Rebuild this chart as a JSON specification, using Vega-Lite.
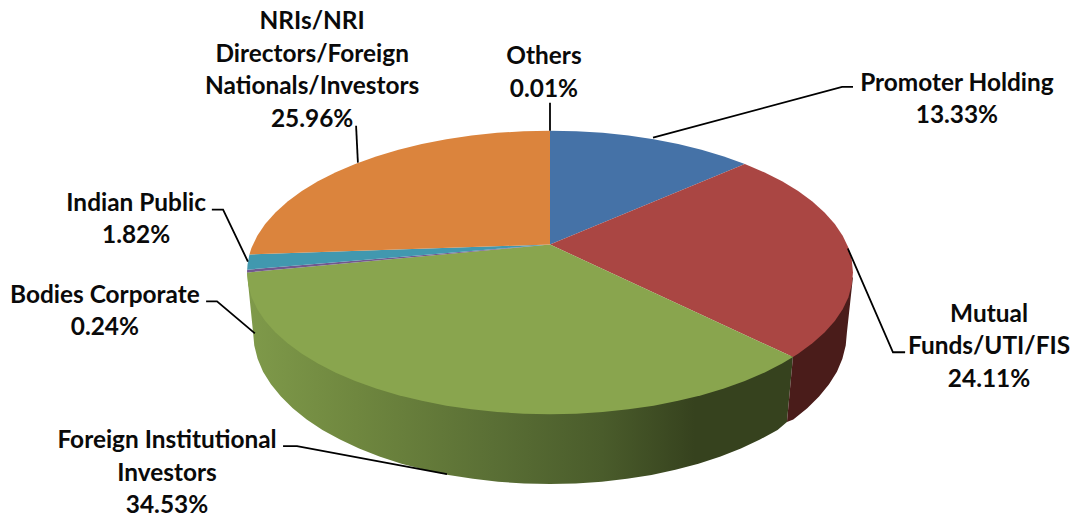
{"$schema":"https://vega.github.io/schema/vega-lite/v6.json","width":1073,"height":518,"padding":0,"autosize":{"type":"fit","contains":"padding"},"background":"white","config":{"view":{"stroke":null}},
"datasets":{
"sideGreen":[{"i":0,"x":-1,"y":0},{"i":1,"x":-0.98,"y":-0.4225},{"i":2,"x":-0.976,"y":-0.516},{"i":3,"x":-0.965,"y":-0.609},{"i":4,"x":-0.947,"y":-0.7},{"i":5,"x":-0.921,"y":-0.789},{"i":6,"x":-0.888,"y":-0.875},{"i":7,"x":-0.849,"y":-0.958},{"i":8,"x":-0.803,"y":-1.037},{"i":9,"x":-0.751,"y":-1.111},{"i":10,"x":-0.693,"y":-1.179},{"i":11,"x":-0.63,"y":-1.242},{"i":12,"x":-0.563,"y":-1.299},{"i":13,"x":-0.49,"y":-1.349},{"i":14,"x":-0.414,"y":-1.392},{"i":15,"x":-0.335,"y":-1.429},{"i":16,"x":-0.254,"y":-1.456},{"i":17,"x":-0.171,"y":-1.477},{"i":18,"x":-0.085,"y":-1.489},{"i":19,"x":0,"y":-1.493},{"i":20,"x":0.085,"y":-1.489},{"i":21,"x":0.171,"y":-1.477},{"i":22,"x":0.254,"y":-1.456},{"i":23,"x":0.335,"y":-1.429},{"i":24,"x":0.414,"y":-1.392},{"i":25,"x":0.49,"y":-1.349},{"i":26,"x":0.563,"y":-1.299},{"i":27,"x":0.63,"y":-1.242},{"i":28,"x":0.693,"y":-1.179},{"i":29,"x":0.751,"y":-1.111},{"i":30,"x":0.782,"y":-1.055},{"i":31,"x":0.802,"y":-0.592}],
"sideRed":[{"i":0,"x":0.802,"y":-0.592},{"i":1,"x":0.782,"y":-1.055},{"i":2,"x":0.803,"y":-1.037},{"i":3,"x":0.849,"y":-0.958},{"i":4,"x":0.888,"y":-0.875},{"i":5,"x":0.921,"y":-0.789},{"i":6,"x":0.947,"y":-0.7},{"i":7,"x":0.965,"y":-0.609},{"i":8,"x":0.976,"y":-0.516},{"i":9,"x":0.98,"y":-0.4225},{"i":10,"x":1,"y":-0.03}],
"top":[
{"s":"Promoter Holding","i":0,"x":0,"y":0.197},{"s":"Promoter Holding","i":1,"x":0,"y":1},{"s":"Promoter Holding","i":2,"x":0.087,"y":0.996},{"s":"Promoter Holding","i":3,"x":0.174,"y":0.985},{"s":"Promoter Holding","i":4,"x":0.259,"y":0.966},{"s":"Promoter Holding","i":5,"x":0.342,"y":0.94},{"s":"Promoter Holding","i":6,"x":0.423,"y":0.906},{"s":"Promoter Holding","i":7,"x":0.5,"y":0.866},{"s":"Promoter Holding","i":8,"x":0.574,"y":0.819},{"s":"Promoter Holding","i":9,"x":0.643,"y":0.766},
{"s":"Mutual Funds/UTI/FIS","i":0,"x":0,"y":0.197},{"s":"Mutual Funds/UTI/FIS","i":1,"x":0.643,"y":0.766},{"s":"Mutual Funds/UTI/FIS","i":2,"x":0.707,"y":0.707},{"s":"Mutual Funds/UTI/FIS","i":3,"x":0.766,"y":0.643},{"s":"Mutual Funds/UTI/FIS","i":4,"x":0.819,"y":0.574},{"s":"Mutual Funds/UTI/FIS","i":5,"x":0.866,"y":0.5},{"s":"Mutual Funds/UTI/FIS","i":6,"x":0.906,"y":0.423},{"s":"Mutual Funds/UTI/FIS","i":7,"x":0.94,"y":0.342},{"s":"Mutual Funds/UTI/FIS","i":8,"x":0.966,"y":0.259},{"s":"Mutual Funds/UTI/FIS","i":9,"x":0.985,"y":0.174},{"s":"Mutual Funds/UTI/FIS","i":10,"x":0.996,"y":0.087},{"s":"Mutual Funds/UTI/FIS","i":11,"x":1,"y":0},{"s":"Mutual Funds/UTI/FIS","i":12,"x":0.996,"y":-0.087},{"s":"Mutual Funds/UTI/FIS","i":13,"x":0.985,"y":-0.174},{"s":"Mutual Funds/UTI/FIS","i":14,"x":0.966,"y":-0.259},{"s":"Mutual Funds/UTI/FIS","i":15,"x":0.94,"y":-0.342},{"s":"Mutual Funds/UTI/FIS","i":16,"x":0.906,"y":-0.423},{"s":"Mutual Funds/UTI/FIS","i":17,"x":0.866,"y":-0.5},{"s":"Mutual Funds/UTI/FIS","i":18,"x":0.819,"y":-0.574},{"s":"Mutual Funds/UTI/FIS","i":19,"x":0.802,"y":-0.597},
{"s":"Foreign Institutional Investors","i":0,"x":0,"y":0.197},{"s":"Foreign Institutional Investors","i":1,"x":0.802,"y":-0.597},{"s":"Foreign Institutional Investors","i":2,"x":0.766,"y":-0.643},{"s":"Foreign Institutional Investors","i":3,"x":0.707,"y":-0.707},{"s":"Foreign Institutional Investors","i":4,"x":0.643,"y":-0.766},{"s":"Foreign Institutional Investors","i":5,"x":0.574,"y":-0.819},{"s":"Foreign Institutional Investors","i":6,"x":0.5,"y":-0.866},{"s":"Foreign Institutional Investors","i":7,"x":0.423,"y":-0.906},{"s":"Foreign Institutional Investors","i":8,"x":0.342,"y":-0.94},{"s":"Foreign Institutional Investors","i":9,"x":0.259,"y":-0.966},{"s":"Foreign Institutional Investors","i":10,"x":0.174,"y":-0.985},{"s":"Foreign Institutional Investors","i":11,"x":0.087,"y":-0.996},{"s":"Foreign Institutional Investors","i":12,"x":0,"y":-1},{"s":"Foreign Institutional Investors","i":13,"x":-0.087,"y":-0.996},{"s":"Foreign Institutional Investors","i":14,"x":-0.174,"y":-0.985},{"s":"Foreign Institutional Investors","i":15,"x":-0.259,"y":-0.966},{"s":"Foreign Institutional Investors","i":16,"x":-0.342,"y":-0.94},{"s":"Foreign Institutional Investors","i":17,"x":-0.423,"y":-0.906},{"s":"Foreign Institutional Investors","i":18,"x":-0.5,"y":-0.866},{"s":"Foreign Institutional Investors","i":19,"x":-0.574,"y":-0.819},{"s":"Foreign Institutional Investors","i":20,"x":-0.643,"y":-0.766},{"s":"Foreign Institutional Investors","i":21,"x":-0.707,"y":-0.707},{"s":"Foreign Institutional Investors","i":22,"x":-0.766,"y":-0.643},{"s":"Foreign Institutional Investors","i":23,"x":-0.819,"y":-0.574},{"s":"Foreign Institutional Investors","i":24,"x":-0.866,"y":-0.5},{"s":"Foreign Institutional Investors","i":25,"x":-0.906,"y":-0.423},{"s":"Foreign Institutional Investors","i":26,"x":-0.94,"y":-0.342},{"s":"Foreign Institutional Investors","i":27,"x":-0.966,"y":-0.259},{"s":"Foreign Institutional Investors","i":28,"x":-0.985,"y":-0.174},{"s":"Foreign Institutional Investors","i":29,"x":-0.996,"y":-0.087},{"s":"Foreign Institutional Investors","i":30,"x":-1,"y":0},
{"s":"Bodies Corporate","i":0,"x":0,"y":0.197},{"s":"Bodies Corporate","i":1,"x":-1,"y":0},{"s":"Bodies Corporate","i":2,"x":-0.9995,"y":0.02},
{"s":"Indian Public","i":0,"x":0,"y":0.197},{"s":"Indian Public","i":1,"x":-0.9995,"y":0.02},{"s":"Indian Public","i":2,"x":-0.998,"y":0.06},{"s":"Indian Public","i":3,"x":-0.992,"y":0.127},
{"s":"NRIs/NRI Directors/Foreign Nationals/Investors","i":0,"x":0,"y":0.197},{"s":"NRIs/NRI Directors/Foreign Nationals/Investors","i":1,"x":-0.992,"y":0.127},{"s":"NRIs/NRI Directors/Foreign Nationals/Investors","i":2,"x":-0.985,"y":0.174},{"s":"NRIs/NRI Directors/Foreign Nationals/Investors","i":3,"x":-0.966,"y":0.259},{"s":"NRIs/NRI Directors/Foreign Nationals/Investors","i":4,"x":-0.94,"y":0.342},{"s":"NRIs/NRI Directors/Foreign Nationals/Investors","i":5,"x":-0.906,"y":0.423},{"s":"NRIs/NRI Directors/Foreign Nationals/Investors","i":6,"x":-0.866,"y":0.5},{"s":"NRIs/NRI Directors/Foreign Nationals/Investors","i":7,"x":-0.819,"y":0.574},{"s":"NRIs/NRI Directors/Foreign Nationals/Investors","i":8,"x":-0.766,"y":0.643},{"s":"NRIs/NRI Directors/Foreign Nationals/Investors","i":9,"x":-0.707,"y":0.707},{"s":"NRIs/NRI Directors/Foreign Nationals/Investors","i":10,"x":-0.643,"y":0.766},{"s":"NRIs/NRI Directors/Foreign Nationals/Investors","i":11,"x":-0.574,"y":0.819},{"s":"NRIs/NRI Directors/Foreign Nationals/Investors","i":12,"x":-0.5,"y":0.866},{"s":"NRIs/NRI Directors/Foreign Nationals/Investors","i":13,"x":-0.423,"y":0.906},{"s":"NRIs/NRI Directors/Foreign Nationals/Investors","i":14,"x":-0.342,"y":0.94},{"s":"NRIs/NRI Directors/Foreign Nationals/Investors","i":15,"x":-0.259,"y":0.966},{"s":"NRIs/NRI Directors/Foreign Nationals/Investors","i":16,"x":-0.174,"y":0.985},{"s":"NRIs/NRI Directors/Foreign Nationals/Investors","i":17,"x":-0.087,"y":0.996},{"s":"NRIs/NRI Directors/Foreign Nationals/Investors","i":18,"x":0,"y":1}
],
"leaders":[
{"l":"Others","i":0,"x":0,"y":1.197},{"l":"Others","i":1,"x":0,"y":1},
{"l":"NRI","i":0,"x":-0.64,"y":1.035},{"l":"NRI","i":1,"x":-0.634,"y":0.775},
{"l":"Promoter","i":0,"x":1,"y":1.31},{"l":"Promoter","i":1,"x":0.964,"y":1.31},{"l":"Promoter","i":2,"x":0.34,"y":0.951},
{"l":"Mutual","i":0,"x":0.983,"y":0.169},{"l":"Mutual","i":1,"x":1.132,"y":-0.563},{"l":"Mutual","i":2,"x":1.172,"y":-0.563},
{"l":"Indian","i":0,"x":-1.116,"y":0.444},{"l":"Indian","i":1,"x":-1.079,"y":0.444},{"l":"Indian","i":2,"x":-0.997,"y":0.077},
{"l":"Bodies","i":0,"x":-1.135,"y":-0.204},{"l":"Bodies","i":1,"x":-1.099,"y":-0.204},{"l":"Bodies","i":2,"x":-0.974,"y":-0.43},
{"l":"Foreign","i":0,"x":-0.881,"y":-1.225},{"l":"Foreign","i":1,"x":-0.835,"y":-1.225},{"l":"Foreign","i":2,"x":-0.34,"y":-1.423}
],
"labels":[
{"share":0.01,"text":"Others\n0.01%","x":-0.02,"y":1.52},
{"share":25.96,"text":"NRIs/NRI\nDirectors/Foreign\nNationals/Investors\n25.96%","x":-0.785,"y":1.767},
{"share":13.33,"text":"Promoter Holding\n13.33%","x":1.343,"y":1.33},
{"share":24.11,"text":"Mutual\nFunds/UTI/FIS\n24.11%","x":1.449,"y":-0.297},
{"share":1.82,"text":"Indian Public\n1.82%","x":-1.366,"y":0.485},
{"share":0.24,"text":"Bodies Corporate\n0.24%","x":-1.469,"y":-0.163},
{"share":34.53,"text":"Foreign Institutional\nInvestors\n34.53%","x":-1.264,"y":-1.191}
]},
"encoding":{
"x":{"field":"x","type":"quantitative","axis":null,"scale":{"domain":[-1.8152,1.7261],"nice":false,"zero":false}},
"y":{"field":"y","type":"quantitative","axis":null,"scale":{"domain":[-1.7254,1.9225],"nice":false,"zero":false}}
},
"layer":[
{"data":{"name":"sideGreen"},"mark":{"type":"line","filled":true,"strokeWidth":0,"clip":false,"color":{"gradient":"linear","x1":0,"y1":0,"x2":1,"y2":0,"stops":[{"offset":0,"color":"#7f9a4a"},{"offset":0.2,"color":"#6f873f"},{"offset":0.45,"color":"#5a6f35"},{"offset":0.65,"color":"#4a5c2b"},{"offset":0.82,"color":"#36421e"},{"offset":1,"color":"#36421e"}]}},"encoding":{"order":{"field":"i"}}},
{"data":{"name":"sideRed"},"mark":{"type":"line","filled":true,"strokeWidth":0,"color":"#4a1c1a"},"encoding":{"order":{"field":"i"}}},
{"data":{"name":"top"},"mark":{"type":"line","filled":true,"strokeWidth":0},"encoding":{"order":{"field":"i"},"color":{"field":"s","type":"nominal","legend":null,"scale":{"domain":["Promoter Holding","Mutual Funds/UTI/FIS","Foreign Institutional Investors","Bodies Corporate","Indian Public","NRIs/NRI Directors/Foreign Nationals/Investors"],"range":["#4572A7","#AA4643","#89A54E","#71588F","#4198AF","#DB843D"]}}}},
{"data":{"name":"leaders"},"mark":{"type":"line","color":"#000000","strokeWidth":1.8},"encoding":{"order":{"field":"i"},"detail":{"field":"l"}}},
{"data":{"name":"labels"},"mark":{"type":"text","font":"Lato","fontWeight":"bold","fontSize":24.4,"color":"#0a0a0a","lineBreak":"\n","lineHeight":32.5,"align":"center","baseline":"middle"},"encoding":{"text":{"field":"text"}}}
]}
